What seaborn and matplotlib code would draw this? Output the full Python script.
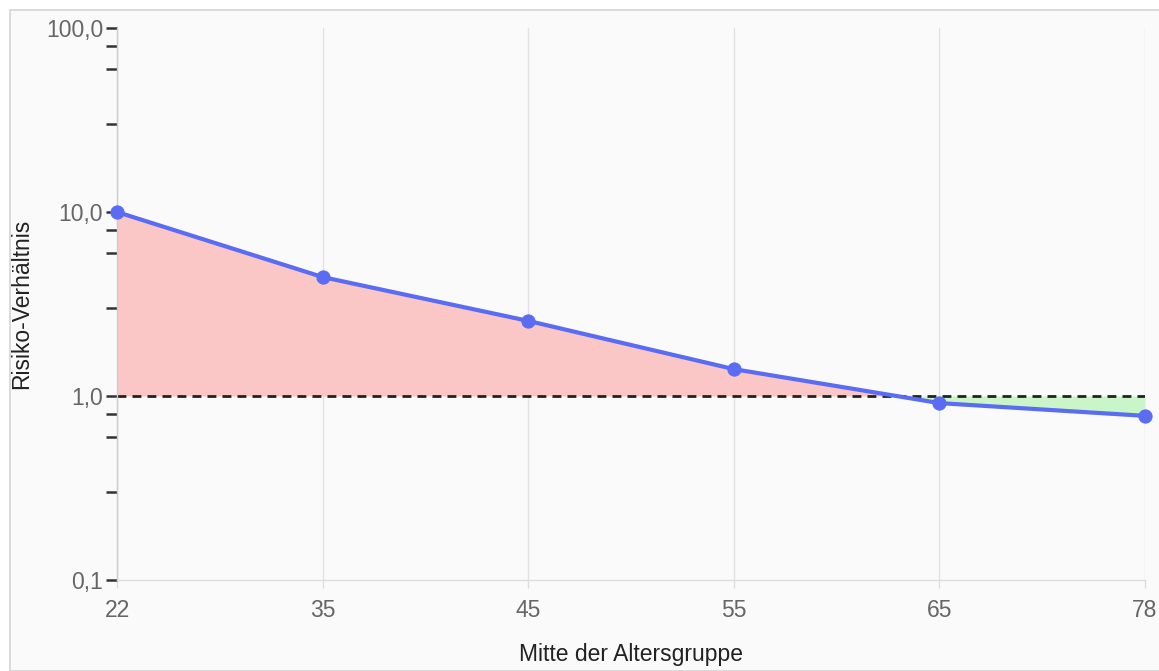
import numpy as np
import pandas as pd
import seaborn as sns
import matplotlib.pyplot as plt
from matplotlib.patches import Rectangle
from matplotlib.ticker import FixedLocator, FixedFormatter, NullFormatter

# data
age_groups = ['22', '35', '45', '55', '65', '78']
risk_ratio = [10.0, 4.43, 2.56, 1.40, 0.915, 0.78]
y_major = [0.1, 1.0, 10.0, 100.0]
y_major_labels = ['0,1', '1,0', '10,0', '100,0']
y_minor = [0.3, 0.6, 0.8, 3, 6, 8, 30, 60, 80]
baseline = 1.0


def main():
    sns.set_theme(style='white')
    plt.rcParams['font.family'] = ['Liberation Sans', 'DejaVu Sans']

    fig = plt.figure(figsize=(11.59, 6.71), dpi=100)
    fig.patch.set_facecolor('white')
    # card background with thin border
    fig.patches.append(Rectangle((9.5 / 1159, 0), 1.0, 1 - 9.5 / 671, transform=fig.transFigure,
                                 facecolor='#fafafa', edgecolor='#d4d4d4', linewidth=1.2, zorder=-10))

    ax = fig.add_axes([117 / 1159, 1 - 580 / 671, (1145 - 117) / 1159, (580 - 28) / 671])
    ax.set_facecolor('none')

    df = pd.DataFrame({'pos': np.arange(len(age_groups)), 'ratio': risk_ratio})
    x = df['pos'].to_numpy(dtype=float)
    y = df['ratio'].to_numpy()

    # fill between line and baseline, crossing found in log space
    lx, ly = [x[0]], [y[0]]
    for i in range(len(x) - 1):
        a, b = np.log10(y[i]) - np.log10(baseline), np.log10(y[i + 1]) - np.log10(baseline)
        if a * b < 0:
            t = a / (a - b)
            lx.append(x[i] + t * (x[i + 1] - x[i]))
            ly.append(baseline)
        lx.append(x[i + 1])
        ly.append(y[i + 1])
    lx, ly = np.array(lx), np.array(ly)
    ax.fill_between(lx, ly, baseline, where=ly >= baseline, color='#fbc6c6', linewidth=0, zorder=1)
    ax.fill_between(lx, ly, baseline, where=ly <= baseline, color='#c9f5c9', linewidth=0, zorder=1)

    ax.axhline(baseline, color='#222222', linestyle=(0, (3.2, 2.2)), linewidth=2, zorder=2)

    sns.lineplot(data=df, x='pos', y='ratio', ax=ax, color='#5a6cf2', linewidth=3,
                 marker='o', markersize=9.5, markeredgecolor='#5a6cf2', zorder=3, clip_on=False)

    ax.set_yscale('log')
    ax.set_ylim(0.1, 100)
    ax.set_xlim(0, len(age_groups) - 1)

    ax.yaxis.set_major_locator(FixedLocator(y_major))
    ax.yaxis.set_major_formatter(FixedFormatter(y_major_labels))
    ax.yaxis.set_minor_locator(FixedLocator(y_minor))
    ax.yaxis.set_minor_formatter(NullFormatter())
    ax.tick_params(axis='y', which='both', left=True, length=8, width=1.8, color='#333333',
                   labelsize=16.5, labelcolor='#666666', pad=2)

    ax.set_xticks(x)
    ax.set_xticklabels(age_groups)
    ax.tick_params(axis='x', bottom=True, length=6, width=1, color='#dddddd',
                   labelsize=16.5, labelcolor='#666666', pad=8)
    ax.grid(axis='x', color='#e2e2e2', linewidth=1)
    ax.grid(axis='y', which='both', visible=False)

    for side in ['top', 'right']:
        ax.spines[side].set_visible(False)
    ax.spines['left'].set_color('#cccccc')
    ax.spines['bottom'].set_color('#dddddd')
    ax.spines['left'].set_linewidth(1)
    ax.spines['bottom'].set_linewidth(1)

    ax.set_xlabel('Mitte der Altersgruppe', fontsize=16.5, color='#222222')
    ax.set_ylabel('Risiko-Verhältnis', fontsize=16.5, color='#222222')
    ax.yaxis.set_label_coords(-95 / 1028, 0.5)
    ax.xaxis.set_label_coords(0.5, -75 / 552)
    ax.xaxis.label.set_va('center')
    ax.yaxis.label.set_va('center')

    fig.savefig('out.png', dpi=100, facecolor='white')


if __name__ == '__main__':
    main()
